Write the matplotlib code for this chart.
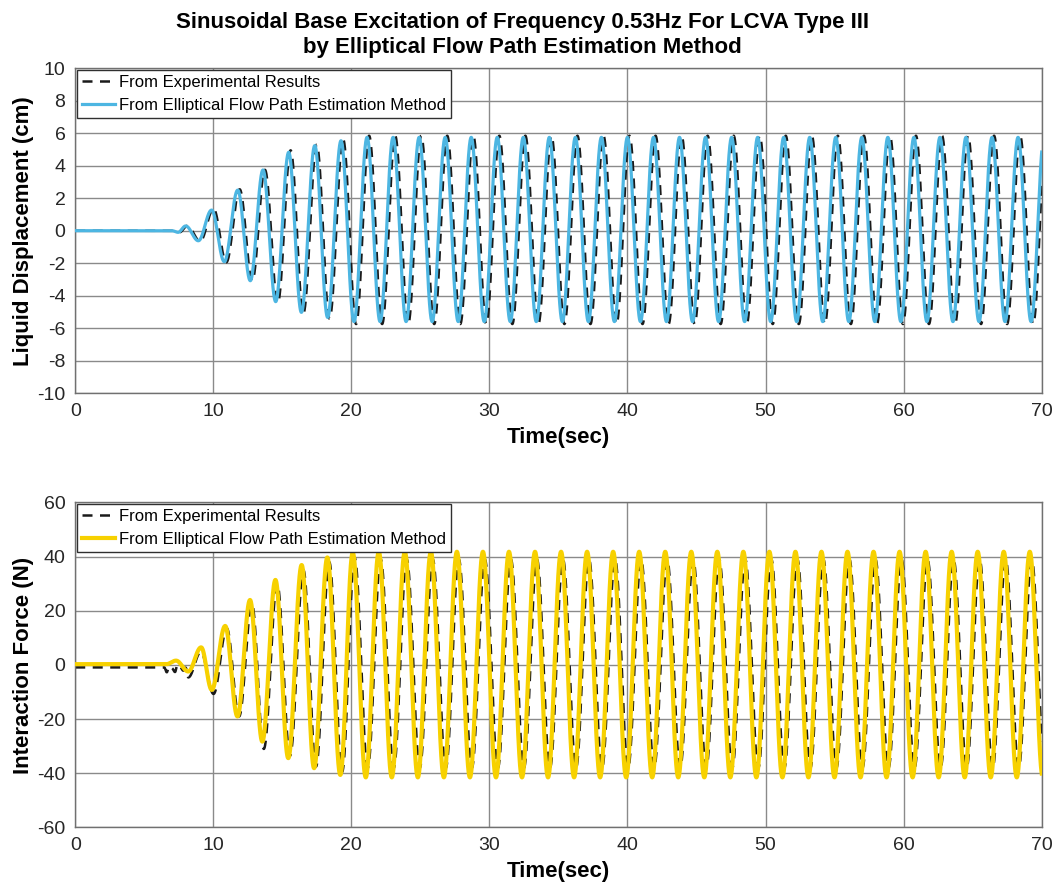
import numpy as np
import matplotlib.pyplot as plt

plt.rcParams['font.family'] = ['Liberation Sans', 'DejaVu Sans']
plt.rcParams['axes.unicode_minus'] = False

# ---- data ----
# oscillation period (s), from the spacing of the peaks (~0.53 Hz)
PERIOD = 1.886

# liquid displacement (cm): extrema during the ramp-up
disp_est_t = [0.0, 7.0, 7.45, 8.0, 8.92, 9.88, 10.8, 11.77, 12.68, 13.6, 14.52, 15.46, 16.38, 17.35, 18.28, 19.25]
disp_est_v = [0.0, 0.0, -0.1, 0.29, -0.62, 1.27, -1.91, 2.5, -3.08, 3.74, -4.37, 4.83, -5.03, 5.24, -5.34, 5.54]
disp_exp_t = [0.0, 7.1, 7.55, 8.12, 9.05, 10.02, 10.94, 11.91, 12.82, 13.74, 14.67, 15.6, 16.52, 17.49, 18.42, 19.4]
disp_exp_v = [0.0, 0.0, -0.1, 0.3, -0.65, 1.35, -1.95, 2.55, -3.1, 3.75, -4.45, 4.95, -5.1, 5.3, -5.42, 5.65]
# steady state (trough, peak)
disp_est_steady = (-5.6, 5.75)
disp_exp_steady = (-5.75, 5.85)

# interaction force (N): extrema during the ramp-up
force_est_t = [0.0, 6.6, 7.3, 8.19, 9.12, 9.89, 10.86, 11.75, 12.66, 13.55, 14.5, 15.43, 16.4, 17.3, 18.26, 19.2, 20.1]
force_est_v = [0.3, 0.3, 1.6, -2.4, 6.5, -9.2, 14.4, -19.0, 24.0, -28.3, 31.4, -34.4, 36.9, -38.1, 39.7, -40.6, 41.5]
force_exp_t = [0.0, 6.45, 6.63, 6.8, 7.0, 7.23, 7.4, 7.6, 7.83, 8.0, 8.19, 9.1, 10.02,
               10.98, 11.87, 12.8, 13.66, 14.63, 15.56, 16.53, 17.44, 18.4, 19.33, 20.24]
force_exp_v = [-0.9, -0.9, -2.7, -0.5, -1.2, -2.6, 0.2, -0.8, -2.1, -1.0, -4.6, 4.8, -10.7,
               13.5, -19.0, 22.5, -31.0, 30.0, -33.5, 35.0, -37.5, 38.0, -39.5, 39.5]
force_est_steady = (-41.5, 41.8)
force_exp_steady = (-38.0, 39.0)

lbl_exp = 'From Experimental Results'
lbl_est = 'From Elliptical Flow Path Estimation Method'


def extend(ts, vs, steady, t_end=72.0):
    # continue the extrema list with the steady amplitudes
    ts, vs = list(ts), list(vs)
    trough, peak = steady
    while ts[-1] < t_end:
        ts.append(ts[-1] + PERIOD / 2)
        vs.append(trough if vs[-1] > 0 else peak)
    return np.array(ts), np.array(vs)


def wave(t, ts, vs):
    # smooth half-cosine between successive extrema
    pos = np.interp(t, ts, np.arange(len(ts)))
    i = np.minimum(np.floor(pos).astype(int), len(ts) - 2)
    s = pos - i
    return vs[i] + (vs[i + 1] - vs[i]) * (1 - np.cos(np.pi * s)) / 2


t = np.linspace(0, 70, 7001)
d_est = wave(t, *extend(disp_est_t, disp_est_v, disp_est_steady))
d_exp = wave(t, *extend(disp_exp_t, disp_exp_v, disp_exp_steady))
f_est = wave(t, *extend(force_est_t, force_est_v, force_est_steady))
f_exp = wave(t, *extend(force_exp_t, force_exp_v, force_exp_steady))

fig = plt.figure(figsize=(10.55, 8.89), dpi=100)
ax1 = fig.add_axes([0.0713, 0.5579, 0.9161, 0.3652])
ax2 = fig.add_axes([0.0713, 0.0692, 0.9161, 0.3656])

fig.text(0.495, 0.986, 'Sinusoidal Base Excitation of Frequency 0.53Hz For LCVA Type III\n'
         'by Elliptical Flow Path Estimation Method',
         ha='center', va='top', fontsize=16, fontweight='bold', linespacing=1.2)

panels = [
    (ax1, d_exp, d_est, '#4DB6E2', 2.3, 'Liquid Displacement (cm)', (-10, 10), np.arange(-10, 11, 2)),
    (ax2, f_exp, f_est, '#F7D100', 3.0, 'Interaction Force (N)', (-60, 60), np.arange(-60, 61, 20)),
]
for ax, y_exp, y_est, col, lw, ylab, ylim, yticks in panels:
    ax.plot(t, y_exp, color='#1a1a1a', lw=1.8, dashes=(4, 3), label=lbl_exp, zorder=2)
    ax.plot(t, y_est, color=col, lw=lw, label=lbl_est, zorder=3)
    ax.set_xlim(0, 70)
    ax.set_ylim(*ylim)
    ax.set_xticks(np.arange(0, 71, 10))
    ax.set_yticks(yticks)
    ax.grid(True, color='#8a8a8a', lw=1.0)
    ax.set_axisbelow(True)
    for sp in ax.spines.values():
        sp.set_color('#707070')
        sp.set_linewidth(1.0)
    ax.tick_params(length=0, labelsize=14, labelcolor='#262626', pad=7)
    ax.set_xlabel('Time(sec)', fontsize=16, fontweight='bold', labelpad=5)
    ax.set_ylabel(ylab, fontsize=16, fontweight='bold', labelpad=2)
    leg = ax.legend(loc='upper left', fontsize=12, borderaxespad=0.1, handlelength=2.0,
                    handletextpad=0.2, borderpad=0.3, labelspacing=0.45, fancybox=False,
                    framealpha=1, edgecolor='#303030')
    leg.get_frame().set_linewidth(1.0)

fig.savefig('out.png', dpi=100)
